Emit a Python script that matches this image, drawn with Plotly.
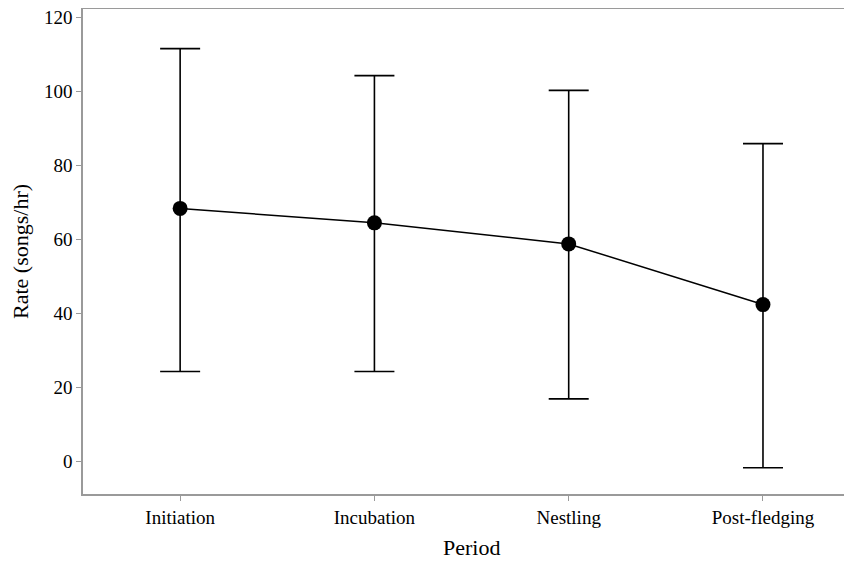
import plotly.graph_objects as go

periods = ["Initiation", "Incubation", "Nestling", "Post-fledging"]
mean_rate = [68.4, 64.5, 58.8, 42.4]
upper_rate = [111.6, 104.3, 100.3, 85.9]
lower_rate = [24.3, 24.3, 16.9, -1.7]
y_ticks = [0, 20, 40, 60, 80, 100, 120]

err_plus = [u - m for u, m in zip(upper_rate, mean_rate)]
err_minus = [m - l for m, l in zip(mean_rate, lower_rate)]

font_family = "Liberation Serif, Times New Roman, serif"
axis_gray = "#9a9a9a"

fig = go.Figure()
fig.add_trace(go.Scatter(
    x=list(range(len(periods))),
    y=mean_rate,
    mode="lines+markers",
    line=dict(color="black", width=1.5),
    marker=dict(color="black", size=15),
    error_y=dict(type="data", symmetric=False, array=err_plus, arrayminus=err_minus,
                 color="black", thickness=1.6, width=20),
    showlegend=False,
))

fig.update_layout(
    width=836, height=553,
    margin=dict(l=75, r=0, t=1, b=67),
    paper_bgcolor="white", plot_bgcolor="white",
    font=dict(family=font_family, color="black", size=18),
    xaxis=dict(
        range=[-0.5, 3.417],
        automargin=False,
        tickmode="array", tickvals=list(range(len(periods))), ticktext=periods,
        showline=True, linecolor=axis_gray, linewidth=1.5, mirror=True,
        ticks="outside", ticklen=5, tickcolor=axis_gray, tickwidth=1,
        showgrid=False, zeroline=False,
        tickfont=dict(size=19),
        ticklabeloverflow="allow",
    ),
    yaxis=dict(
        range=[-8.8, 122.3],
        automargin=False,
        tickmode="array", tickvals=y_ticks,
        showline=True, linecolor=axis_gray, linewidth=1.5, mirror=False,
        ticks="outside", ticklen=5, tickcolor=axis_gray, tickwidth=1,
        showgrid=False, zeroline=False,
        tickfont=dict(size=19),
        ticklabeloverflow="allow",
        title=dict(text="Rate (songs/hr)", font=dict(size=22), standoff=12),
    ),
    annotations=[dict(
        text="Period", xref="paper", yref="paper", x=0.51, y=0,
        xanchor="center", yanchor="middle", yshift=-53, showarrow=False,
        font=dict(size=22, family=font_family, color="black"),
    )],
)

fig.write_html("out.html")
